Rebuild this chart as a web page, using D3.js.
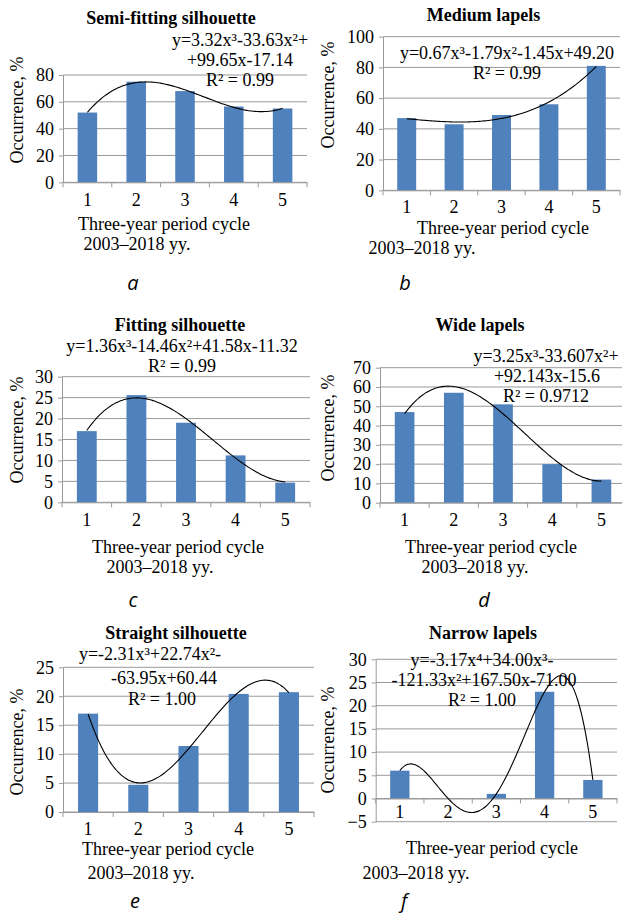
<!DOCTYPE html>
<html>
<head>
<meta charset="utf-8">
<script src="https://cdn.jsdelivr.net/npm/d3@7"></script>
<style>
  body { margin: 0; background: #fff; }
  svg text { font-family: "Liberation Serif", "Times New Roman", serif; fill: #000; }
</style>
</head>
<body>
<svg id="chart" width="622" height="917"></svg>
<script>
// values (occurrence, %)
var categories = [1, 2, 3, 4, 5];
var semiFitting = [52, 75, 68, 56.5, 55];
var mediumLapels = [47, 43, 49, 56, 81];
var fitting = [17, 25.6, 19, 11.2, 4.7];
var wideLapels = [47, 57, 51, 20, 12];
var straight = [17, 4.7, 11.4, 20.4, 20.7];
var narrowLapels = [6, 0, 1, 23, 4];

var panelTitles = ["Semi-fitting silhouette", "Medium lapels", "Fitting silhouette",
  "Wide lapels", "Straight silhouette", "Narrow lapels"];
var equations = [
  ["y=3.32x³-33.63x²+", "+99.65x-17.14", "R² = 0.99"],
  ["y=0.67x³-1.79x²-1.45x+49.20", "R² = 0.99"],
  ["y=1.36x³-14.46x²+41.58x-11.32", "R² = 0.99"],
  ["y=3.25x³-33.607x²+", "+92.143x-15.6", "R² = 0.9712"],
  ["y=-2.31x³+22.74x²-", "-63.95x+60.44", "R² = 1.00"],
  ["y=-3.17x⁴+34.00x³-", "-121.33x²+167.50x-71.00", "R² = 1.00"]
];
var trendOrders = [3, 3, 3, 3, 3, 4];
var yTickValues = [
  [0, 20, 40, 60, 80],
  [0, 20, 40, 60, 80, 100],
  [0, 5, 10, 15, 20, 25, 30],
  [0, 10, 20, 30, 40, 50, 60, 70],
  [0, 5, 10, 15, 20, 25],
  [-5, 0, 5, 10, 15, 20, 25, 30]
];
var xTitleLines = ["Three-year period cycle", "2003–2018 yy."];
var yTitle = "Occurrence, %";
var panelLetters = ["a", "b", "c", "d", "e", "f"];

var series = [semiFitting, mediumLapels, fitting, wideLapels, straight, narrowLapels];

// where each small chart sits on the page
var layout = [
  { x0: 63, x1: 307, yTop: 75, yBot: 182.3, title: [171, 24], eqX: [240, 240, 240], eqY: [46, 66, 86],
    xt: [[164, 230], [137, 250]], yt: [17, 110], letter: [133, 290], labelGap: 11 },
  { x0: 383, x1: 620, yTop: 36.7, yBot: 190.3, title: [483.5, 21], eqX: [507, 507], eqY: [59, 79],
    xt: [[503, 234], [422, 254]], yt: [328, 95], letter: [405, 290], labelGap: 10 },
  { x0: 62, x1: 310, yTop: 376.7, yBot: 502.3, title: [180, 331], eqX: [182, 182], eqY: [352, 372],
    xt: [[178, 553], [160, 573]], yt: [17, 430], letter: [133, 607], labelGap: 11 },
  { x0: 380, x1: 626, yTop: 367.7, yBot: 502.7, title: [480, 331], eqX: [546, 547, 546], eqY: [362, 382, 402],
    xt: [[491, 553], [475, 573]], yt: [328, 428], letter: [484, 607], labelGap: 11 },
  { x0: 63, x1: 314, yTop: 667.3, yBot: 812, title: [176, 639], eqX: [150, 164, 162], eqY: [660, 684, 705],
    xt: [[168, 855], [141, 879]], yt: [17, 742], letter: [135, 908], labelGap: 10 },
  { x0: 375.7, x1: 617, yTop: 659.3, yBot: 821.7, title: [483, 639], eqX: [482, 484, 482], eqY: [666, 686, 706],
    xt: [[492, 854], [416, 879]], yt: [328, 740], letter: [404, 908], labelGap: 7 }
];

var gridColor = "#9a9a9a";
var barColor = "#4f81bd";

// least squares polynomial fit (same as an Excel trendline)
function polyfit(xs, ys, order) {
  var n = order + 1, A = [], b = [];
  for (var i = 0; i < n; i++) {
    A.push([]);
    for (var j = 0; j < n; j++) A[i].push(d3.sum(xs, function (x) { return Math.pow(x, i + j); }));
    b.push(d3.sum(xs, function (x, k) { return ys[k] * Math.pow(x, i); }));
  }
  for (var c = 0; c < n; c++) {
    var p = c;
    for (var r = c + 1; r < n; r++) if (Math.abs(A[r][c]) > Math.abs(A[p][c])) p = r;
    var t = A[c]; A[c] = A[p]; A[p] = t;
    t = b[c]; b[c] = b[p]; b[p] = t;
    for (var r2 = c + 1; r2 < n; r2++) {
      var f = A[r2][c] / A[c][c];
      for (var k = c; k < n; k++) A[r2][k] -= f * A[c][k];
      b[r2] -= f * b[c];
    }
  }
  var coef = new Array(n).fill(0);
  for (var r3 = n - 1; r3 >= 0; r3--) {
    var s = b[r3];
    for (var k2 = r3 + 1; k2 < n; k2++) s -= A[r3][k2] * coef[k2];
    coef[r3] = s / A[r3][r3];
  }
  return coef;
}

var svg = d3.select("#chart");

series.forEach(function (values, pi) {
  var L = layout[pi];
  var ticks = yTickValues[pi];
  var g = svg.append("g");

  var x = d3.scaleBand().domain(categories).range([L.x0, L.x1]);
  var y = d3.scaleLinear().domain(d3.extent(ticks)).range([L.yBot, L.yTop]);

  // gridlines
  g.selectAll("line.grid")
    .data(ticks)
    .enter().append("line")
    .attr("class", "grid")
    .attr("x1", L.x0).attr("x2", L.x1)
    .attr("y1", function (d) { return y(d); })
    .attr("y2", function (d) { return y(d); })
    .attr("stroke", gridColor)
    .attr("stroke-width", 1);

  // bars, gap width 150%
  var bw = x.bandwidth() * 0.4;
  g.selectAll("rect")
    .data(values)
    .enter().append("rect")
    .attr("x", function (d, i) { return x(categories[i]) + (x.bandwidth() - bw) / 2; })
    .attr("y", function (d) { return y(Math.max(d, 0)); })
    .attr("width", bw)
    .attr("height", function (d) { return Math.abs(y(d) - y(0)); })
    .attr("fill", barColor);

  // y axis
  var yAxis = g.append("g")
    .attr("transform", "translate(" + L.x0 + ",0)")
    .call(d3.axisLeft(y).tickValues(ticks).tickSize(4).tickSizeOuter(0).tickPadding(5));
  yAxis.selectAll("path, line").attr("stroke", gridColor);
  yAxis.selectAll("text")
    .style("font-family", "Liberation Serif, serif")
    .style("font-size", "18px")
    .attr("fill", "#000");

  // x axis on the zero line, ticks between categories
  var xAxis = g.append("g")
    .attr("transform", "translate(0," + y(0) + ")")
    .call(d3.axisBottom(x).tickSize(0).tickPadding(L.labelGap));
  xAxis.select("path").attr("stroke", gridColor);
  xAxis.selectAll("text")
    .style("font-family", "Liberation Serif, serif")
    .style("font-size", "18px")
    .attr("fill", "#000");
  g.selectAll("line.xtick")
    .data(categories.map(function (c) { return x(c); }).concat([L.x1]))
    .enter().append("line")
    .attr("class", "xtick")
    .attr("x1", function (d) { return d; }).attr("x2", function (d) { return d; })
    .attr("y1", y(0)).attr("y2", y(0) + 5)
    .attr("stroke", gridColor);

  // polynomial trendline
  var coef = polyfit(categories, values, trendOrders[pi]);
  var xc = d3.scaleLinear().domain([1, 5])
    .range([x(1) + x.bandwidth() / 2, x(5) + x.bandwidth() / 2]);
  var samples = d3.range(1, 5.0001, 0.04);
  var line = d3.line()
    .x(function (d) { return xc(d); })
    .y(function (d) { return y(d3.sum(coef, function (c, k) { return c * Math.pow(d, k); })); })
    .curve(d3.curveBasis);
  g.append("path")
    .datum(samples)
    .attr("d", line)
    .attr("fill", "none")
    .attr("stroke", "#000")
    .attr("stroke-width", 1.1);

  // titles and labels
  g.append("text")
    .attr("x", L.title[0]).attr("y", L.title[1])
    .attr("text-anchor", "middle")
    .style("font-size", "18px")
    .style("font-weight", "bold")
    .text(panelTitles[pi]);

  g.selectAll("text.eq")
    .data(equations[pi])
    .enter().append("text")
    .attr("class", "eq")
    .attr("x", function (d, i) { return L.eqX[i]; })
    .attr("y", function (d, i) { return L.eqY[i]; })
    .attr("text-anchor", "middle")
    .style("font-size", "18px")
    .text(function (d) { return d; });

  g.selectAll("text.xt")
    .data(xTitleLines)
    .enter().append("text")
    .attr("class", "xt")
    .attr("x", function (d, i) { return L.xt[i][0]; })
    .attr("y", function (d, i) { return L.xt[i][1]; })
    .attr("text-anchor", "middle")
    .style("font-size", "18px")
    .text(function (d) { return d; });

  g.append("text")
    .attr("transform", "translate(" + (L.yt[0] + 6) + "," + L.yt[1] + ") rotate(-90)")
    .attr("text-anchor", "middle")
    .style("font-size", "18px")
    .text(yTitle);

  g.append("text")
    .attr("x", L.letter[0]).attr("y", L.letter[1])
    .attr("text-anchor", "middle")
    .style("font-family", "'Open Sans', 'Noto Sans', sans-serif")
    .style("font-style", "italic")
    .style("font-size", "20px")
    .text(panelLetters[pi]);
});
</script>
</body>
</html>
